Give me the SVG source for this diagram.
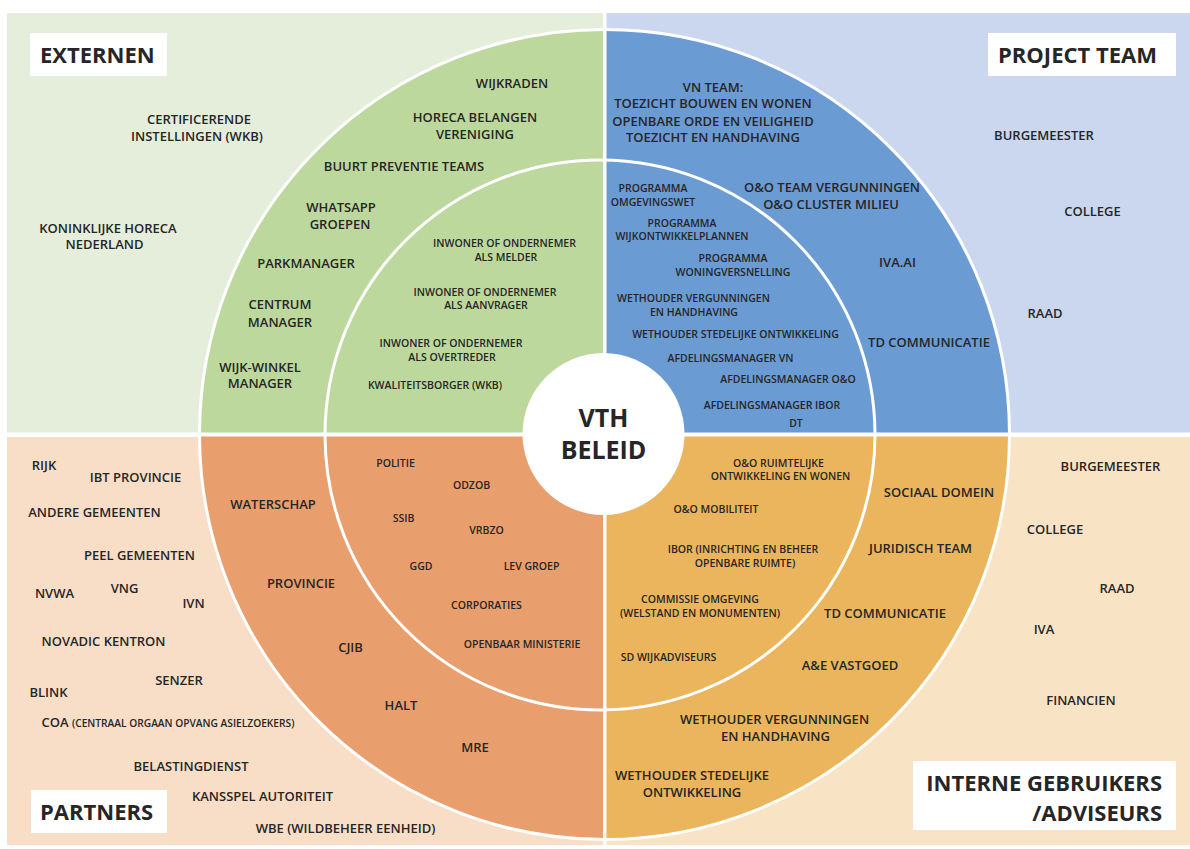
<svg xmlns="http://www.w3.org/2000/svg" width="1190" height="849" viewBox="0 0 1190 849">
<style>
text{font-family:"Open Sans","Noto Sans","Liberation Sans",sans-serif;font-weight:600;fill:#262626;text-anchor:middle;font-size:13px}
.i{font-size:10.5px}
.h{font-size:22px;font-weight:700;text-anchor:start}
.hc{font-size:25px;font-weight:700}
.box{fill:#ffffff}
.ring{fill:none;stroke:#ffffff;stroke-width:3}
</style>
<rect x="0" y="0" width="1190" height="849" fill="#ffffff"/>
<g id="backgrounds">
<rect x="7" y="13" width="596" height="420" fill="#e4eedb"/>
<rect x="606" y="13" width="584" height="420" fill="#cad7ee"/>
<rect x="7" y="437" width="596" height="408" fill="#f8dec6"/>
<rect x="606" y="437" width="584" height="408" fill="#f9e3c5"/>
</g>
<g id="sectors">
<path d="M604.5 434.5 L199.5 434.5 A405 405 0 0 1 604.5 29.5 Z" fill="#bdd89d"/>
<path d="M604.5 434.5 L604.5 29.5 A405 405 0 0 1 1009.5 434.5 Z" fill="#6b9bd3"/>
<path d="M604.5 434.5 L199.5 434.5 A405 405 0 0 0 604.5 839.5 Z" fill="#e99f6d"/>
<path d="M604.5 434.5 L604.5 839.5 A405 405 0 0 0 1009.5 434.5 Z" fill="#eab55c"/>
</g>
<g id="rings">
<circle class="ring" cx="604.5" cy="434.5" r="405"/>
<circle class="ring" cx="600" cy="435" r="275"/>
<rect x="603" y="0" width="3.5" height="849" fill="#ffffff"/>
<rect x="0" y="432.5" width="1190" height="4" fill="#ffffff"/>
</g>
<g id="center">
<circle cx="603.5" cy="434" r="81" fill="#ffffff"/>
<text class="hc" x="603.5" y="427">VTH</text>
<text class="hc" x="603.5" y="459">BELEID</text>
</g>
<g id="externen">
<rect class="box" x="30" y="33" width="137" height="43"/>
<text class="h" x="40" y="63">EXTERNEN</text>
<text x="199" y="124">CERTIFICERENDE</text>
<text x="197" y="141">INSTELLINGEN (WKB)</text>
<text x="108" y="233">KONINKLIJKE HORECA</text>
<text x="104.5" y="249">NEDERLAND</text>
</g>
<g id="externen-ring">
<text x="512" y="88">WIJKRADEN</text>
<text x="475" y="122">HORECA BELANGEN</text>
<text x="475" y="139">VERENIGING</text>
<text x="404" y="171">BUURT PREVENTIE TEAMS</text>
<text x="341" y="212">WHATSAPP</text>
<text x="340" y="229">GROEPEN</text>
<text x="306" y="268">PARKMANAGER</text>
<text x="280" y="309">CENTRUM</text>
<text x="280" y="327">MANAGER</text>
<text x="260" y="372">WIJK-WINKEL</text>
<text x="260" y="388">MANAGER</text>
</g>
<g id="externen-inner">
<text class="i" x="504.5" y="247">INWONER OF ONDERNEMER</text>
<text class="i" x="506" y="261">ALS MELDER</text>
<text class="i" x="485" y="296">INWONER OF ONDERNEMER</text>
<text class="i" x="486" y="309">ALS AANVRAGER</text>
<text class="i" x="451" y="347">INWONER OF ONDERNEMER</text>
<text class="i" x="452" y="361">ALS OVERTREDER</text>
<text class="i" x="435" y="389">KWALITEITSBORGER (WKB)</text>
</g>
<g id="projectteam">
<rect class="box" x="988" y="33" width="188" height="43"/>
<text class="h" x="998" y="63">PROJECT TEAM</text>
<text x="1044" y="140">BURGEMEESTER</text>
<text x="1092.5" y="216">COLLEGE</text>
<text x="1045" y="318">RAAD</text>
</g>
<g id="projectteam-ring">
<text x="713" y="92">VN TEAM:</text>
<text x="713" y="108">TOEZICHT BOUWEN EN WONEN</text>
<text x="713" y="126">OPENBARE ORDE EN VEILIGHEID</text>
<text x="713" y="142">TOEZICHT EN HANDHAVING</text>
<text x="832" y="192">O&amp;O TEAM VERGUNNINGEN</text>
<text x="831" y="209">O&amp;O CLUSTER MILIEU</text>
<text x="897.5" y="267">IVA.AI</text>
<text x="929" y="347">TD COMMUNICATIE</text>
</g>
<g id="projectteam-inner">
<text class="i" x="653" y="192">PROGRAMMA</text>
<text class="i" x="653" y="206">OMGEVINGSWET</text>
<text class="i" x="682" y="227">PROGRAMMA</text>
<text class="i" x="682" y="240">WIJKONTWIKKELPLANNEN</text>
<text class="i" x="733" y="262">PROGRAMMA</text>
<text class="i" x="733" y="276">WONINGVERSNELLING</text>
<text class="i" x="693.5" y="302">WETHOUDER VERGUNNINGEN</text>
<text class="i" x="694" y="316">EN HANDHAVING</text>
<text class="i" x="735.5" y="338">WETHOUDER STEDELIJKE ONTWIKKELING</text>
<text class="i" x="730.5" y="362">AFDELINGSMANAGER VN</text>
<text class="i" x="788" y="383">AFDELINGSMANAGER O&amp;O</text>
<text class="i" x="772" y="409">AFDELINGSMANAGER IBOR</text>
<text class="i" x="796" y="427">DT</text>
</g>
<g id="partners">
<rect class="box" x="31" y="790" width="136" height="43"/>
<text class="h" x="40" y="820">PARTNERS</text>
<text x="44" y="470">RIJK</text>
<text x="135.5" y="482">IBT PROVINCIE</text>
<text x="94.5" y="517">ANDERE GEMEENTEN</text>
<text x="139.5" y="560">PEEL GEMEENTEN</text>
<text x="54.5" y="598">NVWA</text>
<text x="124.5" y="593">VNG</text>
<text x="193.5" y="608">IVN</text>
<text x="103.5" y="646">NOVADIC KENTRON</text>
<text x="179" y="685">SENZER</text>
<text x="48.5" y="697">BLINK</text>
<text x="41.5" y="727" style="text-anchor:start">COA <tspan font-size="10.2">(CENTRAAL ORGAAN OPVANG ASIELZOEKERS)</tspan></text>
<text x="191" y="771">BELASTINGDIENST</text>
<text x="262.5" y="801">KANSSPEL AUTORITEIT</text>
<text x="345.5" y="833">WBE (WILDBEHEER EENHEID)</text>
</g>
<g id="partners-ring">
<text x="273" y="509">WATERSCHAP</text>
<text x="301" y="588">PROVINCIE</text>
<text x="350.5" y="652">CJIB</text>
<text x="401" y="710">HALT</text>
<text x="475" y="752">MRE</text>
</g>
<g id="partners-inner">
<text class="i" x="395.5" y="467">POLITIE</text>
<text class="i" x="471.5" y="489">ODZOB</text>
<text class="i" x="403.5" y="522">SSIB</text>
<text class="i" x="486.5" y="534">VRBZO</text>
<text class="i" x="421" y="570">GGD</text>
<text class="i" x="531.5" y="570">LEV GROEP</text>
<text class="i" x="486.5" y="609">CORPORATIES</text>
<text class="i" x="522" y="648">OPENBAAR MINISTERIE</text>
</g>
<g id="interne">
<rect class="box" x="913" y="761" width="263" height="69"/>
<text class="h" x="1162" y="791" style="text-anchor:end">INTERNE GEBRUIKERS</text>
<text class="h" x="1162" y="821" style="text-anchor:end">/ADVISEURS</text>
<text x="1110.5" y="471">BURGEMEESTER</text>
<text x="1055" y="534">COLLEGE</text>
<text x="1117" y="593">RAAD</text>
<text x="1044" y="634">IVA</text>
<text x="1081" y="705">FINANCIEN</text>
</g>
<g id="interne-ring">
<text x="939" y="497">SOCIAAL DOMEIN</text>
<text x="920.5" y="553">JURIDISCH TEAM</text>
<text x="885" y="618">TD COMMUNICATIE</text>
<text x="850" y="670">A&amp;E VASTGOED</text>
<text x="774.5" y="724">WETHOUDER VERGUNNINGEN</text>
<text x="775.5" y="741">EN HANDHAVING</text>
<text x="692" y="780">WETHOUDER STEDELIJKE</text>
<text x="692" y="797">ONTWIKKELING</text>
</g>
<g id="interne-inner">
<text class="i" x="778.5" y="467">O&amp;O RUIMTELIJKE</text>
<text class="i" x="780.5" y="480">ONTWIKKELING EN WONEN</text>
<text class="i" x="716" y="513">O&amp;O MOBILITEIT</text>
<text class="i" x="743" y="553">IBOR (INRICHTING EN BEHEER</text>
<text class="i" x="745" y="567">OPENBARE RUIMTE)</text>
<text class="i" x="700" y="603">COMMISSIE OMGEVING</text>
<text class="i" x="700" y="617">(WELSTAND EN MONUMENTEN)</text>
<text class="i" x="668.5" y="661">SD WIJKADVISEURS</text>
</g>
</svg>
